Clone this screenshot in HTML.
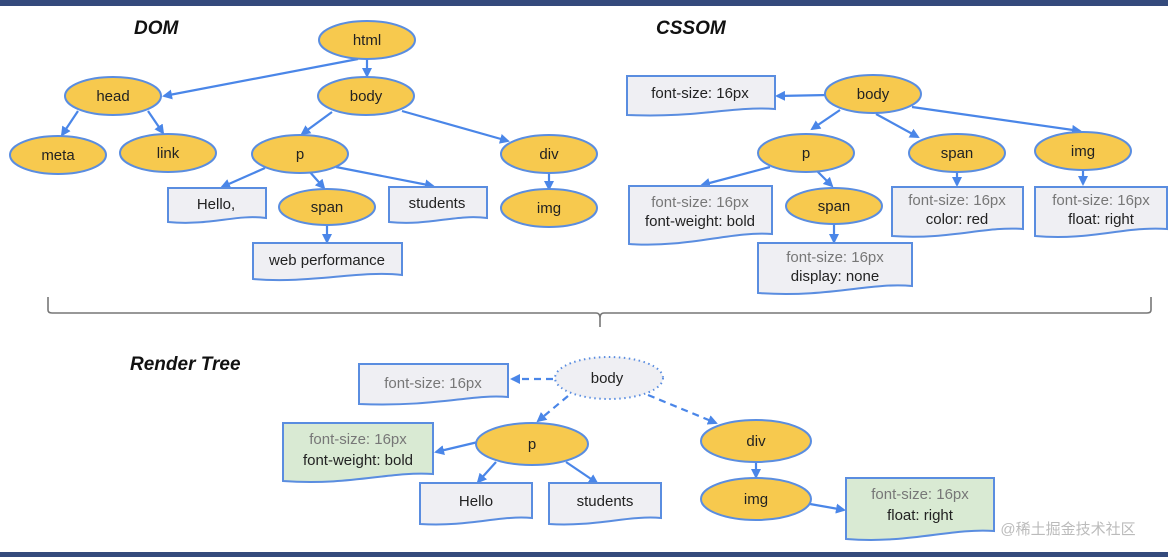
<!DOCTYPE html>
<html><head><meta charset="utf-8"><style>
html,body{margin:0;padding:0;background:#fff;}
svg{display:block;font-family:"Liberation Sans",Arial,sans-serif;}
.e{fill:#f7c94e;stroke:#5a8de0;stroke-width:2}
.b{fill:#efeff3;stroke:#5a8de0;stroke-width:2}
.g{fill:#d9ead3;stroke:#5a8de0;stroke-width:2}
.a{stroke:#4a86e8;stroke-width:2.2;fill:none;marker-end:url(#m)}
.d{stroke:#4a86e8;stroke-width:2.2;fill:none;marker-end:url(#m);stroke-dasharray:7 5}
text{font-size:15px;text-anchor:middle;fill:#222}
.gr{fill:#777}
.t{font-size:19px;font-weight:bold;font-style:italic;text-anchor:start;fill:#111}
</style></head><body>
<svg width="1168" height="557" viewBox="0 0 1168 557">
<defs><marker id="m" markerWidth="10" markerHeight="10" refX="8" refY="5" orient="auto" markerUnits="userSpaceOnUse"><path d="M0,0 L10,5 L0,10 Z" fill="#4a86e8"/></marker></defs>
<rect x="0" y="0" width="1168" height="6" fill="#344a7c"/>
<rect x="0" y="552" width="1168" height="5" fill="#344a7c"/>

<text class="t" x="134" y="34">DOM</text>
<text class="t" x="656" y="34">CSSOM</text>
<text class="t" x="130" y="370">Render Tree</text>

<!-- DOM edges -->
<path class="a" d="M358,59 L164,96"/>
<path class="a" d="M367,59 L367,76"/>
<path class="a" d="M78,111 L62,135"/>
<path class="a" d="M148,111 L163,133"/>
<path class="a" d="M332,112 L302,134"/>
<path class="a" d="M402,111 L508,141"/>
<path class="a" d="M265,168 L222,187"/>
<path class="a" d="M309,171 L324,188"/>
<path class="a" d="M336,167 L433,186"/>
<path class="a" d="M549,173 L549,189"/>
<path class="a" d="M327,225 L327,242"/>

<!-- DOM nodes -->
<ellipse class="e" cx="367" cy="40" rx="48" ry="19"/><text x="367" y="45">html</text>
<ellipse class="e" cx="113" cy="96" rx="48" ry="19"/><text x="113" y="101">head</text>
<ellipse class="e" cx="366" cy="96" rx="48" ry="19"/><text x="366" y="101">body</text>
<ellipse class="e" cx="58" cy="155" rx="48" ry="19"/><text x="58" y="160">meta</text>
<ellipse class="e" cx="168" cy="153" rx="48" ry="19"/><text x="168" y="158">link</text>
<ellipse class="e" cx="300" cy="154" rx="48" ry="19"/><text x="300" y="159">p</text>
<ellipse class="e" cx="549" cy="154" rx="48" ry="19"/><text x="549" y="159">div</text>
<ellipse class="e" cx="327" cy="207" rx="48" ry="18"/><text x="327" y="212">span</text>
<ellipse class="e" cx="549" cy="208" rx="48" ry="19"/><text x="549" y="213">img</text>
<path class="b" d="M168,188 H266 V218 C236,214 210,226 168,222 Z"/><text x="216" y="209">Hello,</text>
<path class="b" d="M389,187 H487 V218 C455,214 430,226 389,222 Z"/><text x="437" y="208">students</text>
<path class="b" d="M253,243 H402 V275 C360,270 310,284 253,279 Z"/><text x="327" y="265">web performance</text>

<!-- CSSOM edges -->
<path class="a" d="M828,95 L777,96"/>
<path class="a" d="M840,110 L812,129"/>
<path class="a" d="M876,114 L918,137"/>
<path class="a" d="M912,107 L1080,131"/>
<path class="a" d="M770,167 L702,185"/>
<path class="a" d="M817,171 L832,186"/>
<path class="a" d="M957,172 L957,185"/>
<path class="a" d="M1083,170 L1083,184"/>
<path class="a" d="M834,224 L834,242"/>

<!-- CSSOM nodes -->
<path class="b" d="M627,76 H775 V109 C730,106 700,118 627,115 Z"/><text x="700" y="98">font-size: 16px</text>
<ellipse class="e" cx="873" cy="94" rx="48" ry="19"/><text x="873" y="99">body</text>
<ellipse class="e" cx="806" cy="153" rx="48" ry="19"/><text x="806" y="158">p</text>
<ellipse class="e" cx="957" cy="153" rx="48" ry="19"/><text x="957" y="158">span</text>
<ellipse class="e" cx="1083" cy="151" rx="48" ry="19"/><text x="1083" y="156">img</text>
<ellipse class="e" cx="834" cy="206" rx="48" ry="18"/><text x="834" y="211">span</text>
<path class="b" d="M629,186 H772 V234 C730,231 690,248 629,244 Z"/><text class="gr" x="700" y="207">font-size: 16px</text><text x="700" y="226">font-weight: bold</text>
<path class="b" d="M758,243 H912 V286 C870,282 830,298 758,293 Z"/><text class="gr" x="835" y="262">font-size: 16px</text><text x="835" y="281">display: none</text>
<path class="b" d="M892,187 H1023 V229 C985,226 950,240 892,236 Z"/><text class="gr" x="957" y="205">font-size: 16px</text><text x="957" y="224">color: red</text>
<path class="b" d="M1035,187 H1167 V229 C1125,226 1090,241 1035,236 Z"/><text class="gr" x="1101" y="205">font-size: 16px</text><text x="1101" y="224">float: right</text>

<!-- brace -->
<path d="M48,297 V310 Q48,313 52,313 H596 Q600,313 600,318 V327 M600,318 Q600,313 604,313 H1147 Q1151,313 1151,310 V297" stroke="#777" stroke-width="1.6" fill="none"/>

<!-- Render tree edges -->
<path class="d" d="M553,379 L512,379"/>
<path class="d" d="M568,396 L538,421"/>
<path class="d" d="M648,395 L716,423"/>
<path class="a" d="M478,442 L436,452"/>
<path class="a" d="M496,462 L478,482"/>
<path class="a" d="M566,462 L597,483"/>
<path class="a" d="M756,463 L756,477"/>
<path class="a" d="M810,504 L844,510"/>

<!-- Render nodes -->
<path class="b" d="M359,364 H508 V397 C470,394 440,407 359,404 Z"/><text class="gr" x="433" y="388">font-size: 16px</text>
<ellipse cx="609" cy="378" rx="54" ry="21" fill="#efeff3" stroke="#5a8de0" stroke-width="2" stroke-dasharray="1.5 3.5"/><text x="607" y="383">body</text>
<path class="g" d="M283,423 H433 V474 C390,471 350,486 283,481 Z"/><text class="gr" x="358" y="444">font-size: 16px</text><text x="358" y="465">font-weight: bold</text>
<ellipse class="e" cx="532" cy="444" rx="56" ry="21"/><text x="532" y="449">p</text>
<ellipse class="e" cx="756" cy="441" rx="55" ry="21"/><text x="756" y="446">div</text>
<ellipse class="e" cx="756" cy="499" rx="55" ry="21"/><text x="756" y="504">img</text>
<path class="b" d="M420,483 H532 V518 C500,515 470,527 420,524 Z"/><text x="476" y="506">Hello</text>
<path class="b" d="M549,483 H661 V518 C630,515 595,527 549,524 Z"/><text x="605" y="506">students</text>
<path class="g" d="M846,478 H994 V531 C950,528 910,544 846,539 Z"/><text class="gr" x="920" y="499">font-size: 16px</text><text x="920" y="520">float: right</text>

<text x="1068" y="534" style="font-family:'Liberation Sans','Noto Sans CJK SC',sans-serif;font-size:15px;fill:#bbb">@稀土掘金技术社区</text>
</svg>
</body></html>
